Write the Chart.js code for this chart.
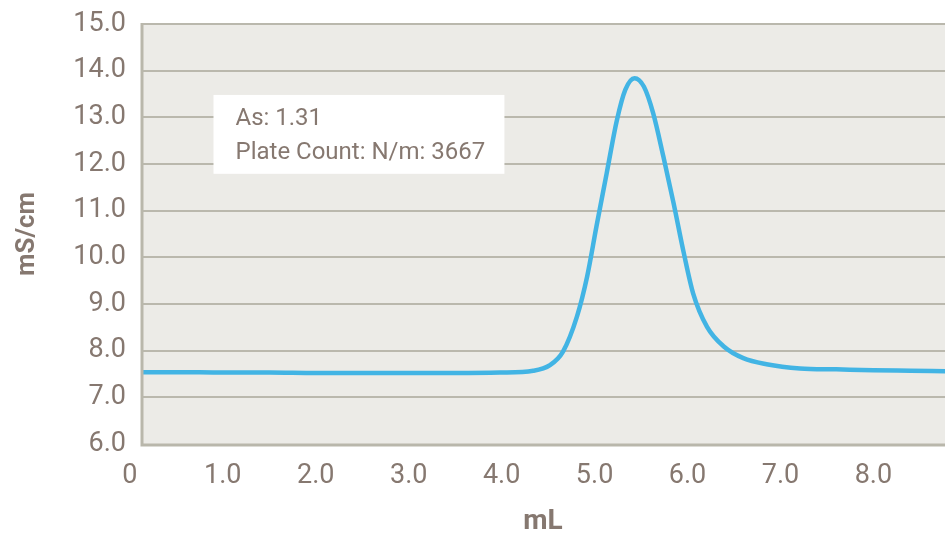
<!DOCTYPE html>
<html>
<head>
<meta charset="utf-8">
<script src="https://cdn.jsdelivr.net/npm/chart.js@4.4.1/dist/chart.umd.min.js"></script>
<style>
  html, body { margin: 0; padding: 0; background: #ffffff; }
  #wrap { width: 945px; height: 535px; position: relative; }
</style>
</head>
<body>
<div id="wrap"><canvas id="c" width="945" height="535"></canvas></div>
<script>
// ---- data ----
const volumeML = [0.12, 0.5, 1.0, 1.5, 2.0, 2.5, 3.0, 3.5, 3.98, 4.34, 4.52, 4.66, 4.81, 4.92, 5.02, 5.13, 5.24, 5.33, 5.43, 5.53, 5.63, 5.74, 5.85, 5.96, 6.06, 6.21, 6.39, 6.60, 6.85, 7.21, 7.6, 8.0, 8.4, 8.77];
const conductivity = [7.54, 7.54, 7.53, 7.53, 7.52, 7.52, 7.52, 7.52, 7.53, 7.57, 7.69, 7.98, 8.73, 9.59, 10.66, 11.80, 12.94, 13.59, 13.84, 13.66, 13.09, 12.16, 11.16, 10.09, 9.23, 8.51, 8.09, 7.84, 7.71, 7.62, 7.60, 7.58, 7.57, 7.56];
const xTickValues = [0, 1, 2, 3, 4, 5, 6, 7, 8];
const yTickValues = [6, 7, 8, 9, 10, 11, 12, 13, 14, 15];
const annotationLines = ["As: 1.31", "Plate Count: N/m: 3667"];
const xTitle = "mL";
const yTitle = "mS/cm";

// annotation box in data units
const boxX0 = 0.90, boxX1 = 4.03, boxYTop = 13.48, boxYBottom = 11.79;
const lineY = [12.96, 12.24];

const textColor = '#867870';
const gridColor = '#bab8ad';
const FONT = 'Roboto, "Open Sans", "DejaVu Sans", sans-serif';

const bgPlugin = {
  id: 'plotBg',
  beforeDraw(chart) {
    const { ctx, chartArea: a } = chart;
    ctx.save();
    ctx.fillStyle = '#ecebe7';
    ctx.fillRect(a.left, a.top, a.right - a.left, a.bottom - a.top);
    ctx.restore();
  },
  afterDatasetsDraw(chart) {
    const { ctx, chartArea: a } = chart;
    ctx.save();
    ctx.strokeStyle = '#b9b7ab';
    ctx.lineWidth = 3;
    ctx.beginPath();
    ctx.moveTo(a.left + 1, a.top - 1);
    ctx.lineTo(a.left + 1, a.bottom + 1);
    ctx.lineTo(a.right, a.bottom + 1);
    ctx.stroke();
    ctx.restore();
  }
};

const boxPlugin = {
  id: 'infoBox',
  afterDraw(chart) {
    const { ctx, scales: { x, y } } = chart;
    const l = x.getPixelForValue(boxX0), r = x.getPixelForValue(boxX1);
    const t = y.getPixelForValue(boxYTop), b = y.getPixelForValue(boxYBottom);
    ctx.save();
    ctx.fillStyle = '#ffffff';
    ctx.fillRect(l, t, r - l, b - t);
    ctx.fillStyle = textColor;
    ctx.font = '400 24px ' + FONT;
    ctx.textBaseline = 'middle';
    ctx.textAlign = 'left';
    annotationLines.forEach((s, i) => {
      ctx.fillText(s, l + 22, y.getPixelForValue(lineY[i]));
    });
    ctx.restore();
  }
};

new Chart(document.getElementById('c'), {
  type: 'line',
  data: {
    datasets: [{
      data: volumeML.map((v, i) => ({ x: v, y: conductivity[i] })),
      borderColor: '#42b4e4',
      borderWidth: 4.5,
      pointRadius: 0,
      fill: false,
      cubicInterpolationMode: 'monotone',
      borderCapStyle: 'round',
      borderJoinStyle: 'round'
    }]
  },
  options: {
    responsive: false,
    animation: false,
    devicePixelRatio: 1,
    layout: { padding: { top: 24, right: 0, bottom: 0, left: 0 } },
    plugins: { legend: { display: false }, tooltip: { enabled: false } },
    scales: {
      x: {
        type: 'linear',
        min: 0.12,
        max: 8.77,
        afterBuildTicks(scale) { scale.ticks = xTickValues.map(v => ({ value: v })); },
        afterFit(scale) { scale.height = 91; scale.paddingLeft = 0; scale.paddingRight = 0; },
        grid: { display: false, drawTicks: false },
        border: { display: false },
        ticks: {
          autoSkip: false,
          maxRotation: 0,
          padding: 16,
          color: textColor,
          font: { family: FONT, size: 27, weight: '400' },
          callback: v => (v === 0 ? '0' : v.toFixed(1))
        },
        title: {
          display: true,
          text: xTitle,
          color: textColor,
          font: { family: FONT, size: 28, weight: 'bold' },
          padding: { top: 0, bottom: -4 }
        }
      },
      y: {
        type: 'linear',
        min: 6,
        max: 15,
        afterBuildTicks(scale) { scale.ticks = yTickValues.map(v => ({ value: v })); },
        afterFit(scale) { scale.width = 141; scale.paddingTop = 0; scale.paddingBottom = 0; },
        grid: {
          color: ctx => (ctx.tick && ctx.tick.value === 6 ? 'rgba(0,0,0,0)' : gridColor),
          lineWidth: 2,
          drawTicks: false
        },
        border: { display: false },
        ticks: {
          padding: 15,
          color: textColor,
          font: { family: FONT, size: 27, weight: '400' },
          callback: v => v.toFixed(1)
        },
        title: {
          display: true,
          text: yTitle,
          color: textColor,
          font: { family: FONT, size: 26, weight: 'bold' },
          padding: { top: 12, bottom: 0 }
        }
      }
    }
  },
  plugins: [bgPlugin, boxPlugin]
});
</script>
</body>
</html>
